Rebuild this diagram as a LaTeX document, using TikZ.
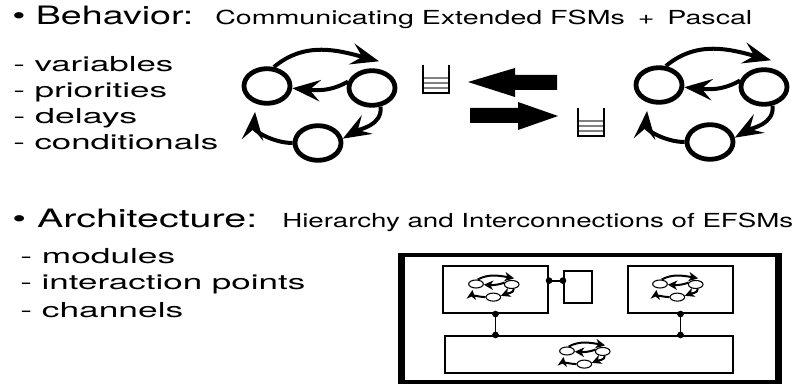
\documentclass[tikz,border=0pt]{standalone}
\usepackage{fontspec}
\setmainfont{TeX Gyre Heros}
\usepackage{graphicx}
\usetikzlibrary{arrows.meta, positioning, calc, shapes.geometric}

\newlength\px
\setlength\px{0.75pt}
\newcommand\stretchto[2]{\resizebox{#1\px}{\height}{#2}}

\tikzset{
  head/.style={font=\fontsize{19}{22}\selectfont, anchor=base west, inner sep=0pt},
  sub/.style={font=\fontsize{14.5}{17}\selectfont, anchor=base west, inner sep=0pt},
  item/.style={font=\fontsize{15.5}{18}\selectfont, anchor=base west, inner sep=0pt},
  state/.style={draw, ellipse, inner sep=0pt, line width=3.6pt, minimum width=34.5pt, minimum height=26pt},
  trans/.style={line width=3pt, -{Stealth[length=21pt, width=16pt, inset=8pt]}},
  mini/.style={xscale=0.34, yscale=0.23,
    state/.style={draw, ellipse, inner sep=0pt, line width=0.8pt, minimum width=11pt, minimum height=6pt},
    trans/.style={line width=1.5pt, -{Stealth[length=7pt, width=7pt, inset=2pt]}}},
  module/.style={draw, rectangle, line width=1.6pt, inner sep=0pt},
  ip/.style={circle, fill, inner sep=0pt, minimum size=5pt},
  pics/fsm/.style={code={
    \node[state] (-l) at (0,0) {};
    \node[state] (-r) at (105,-2) {};
    \node[state] (-b) at (51,-57) {};
    \coordinate (-tr) at ([shift={(7,7)}]-r.north);
    \coordinate (-tl) at ([shift={(6,-12)}]-l.south west);
    \draw[trans] (-l.70) to[out=40, in=165] (-tr);
    \draw[trans] (-r.165) to[out=210, in=-5] (-l.-5);
    \draw[trans] (-r.-65) to[out=-85, in=30] (-b.10);
    \draw[trans] (-b.180) to[out=180, in=-95] (-tl);
  }},
  pics/queue/.style={code={
    \foreach \yy in {-13,-18,-23}
      \draw[gray, line width=0.8pt] (0,\yy) -- (26,\yy);
    \draw[line width=0.9pt] (0,0) -- (0,-28) -- (26,-28) -- (26,0);
  }}
}

\begin{document}
\begin{tikzpicture}[x=0.75pt, y=0.75pt]
\useasboundingbox (0,0) rectangle (801,-385);

% behaviour part
\node[head] (beh) at (12,-25) {\stretchto{181}{• Behavior:}};
\node[sub] (behsub) at (215,-25) {\stretchto{537}{Communicating Extended FSMs\hspace{0.45em}+\hspace{0.45em}Pascal}};
\node[item] (v1) at (13,-72) {\stretchto{160}{- variables}};
\node[item] (v2) at (13,-98) {\stretchto{154}{- priorities}};
\node[item] (v3) at (13,-123) {\stretchto{124}{- delays}};
\node[item] (v4) at (13,-149) {\stretchto{205}{- conditionals}};

\pic (fsmL) at (267,-86) {fsm};
\pic (fsmR) at (659,-85) {fsm};
\pic (qL) at (423,-65) {queue};
\pic (qR) at (578,-108) {queue};

\fill (468,-82) -- (515,-68) -- (515,-75) -- (557,-75) -- (557,-90) -- (515,-90) -- (515,-97) -- cycle;
\fill (558,-116) -- (518,-102) -- (518,-108) -- (470,-108) -- (470,-123) -- (518,-123) -- (518,-130) -- cycle;

% architecture part
\node[head] (arch) at (12,-228) {\stretchto{245}{• Architecture:}};
\node[sub] (archsub) at (282,-228) {\stretchto{511}{Hierarchy and Interconnections of EFSMs}};
\node[item] (m1) at (20,-263) {\stretchto{155}{- modules}};
\node[item] (m2) at (20,-290) {\stretchto{285}{- interaction points}};
\node[item] (m3) at (20,-317) {\stretchto{163}{- channels}};

\node[draw, line width=3pt, inner sep=0pt, minimum width=280.5pt, minimum height=95.25pt] (sys) at (590,-318.5) {};
\draw[line width=4.5pt] (sys.north west) -- (sys.south west);
\draw[line width=4.5pt] (sys.north east) -- (sys.south east);
\node[module, minimum width=78.75pt, minimum height=35.25pt] (modA) at (495.5,-289.5) {};
\node[module, minimum width=78.75pt, minimum height=35.25pt] (modB) at (680.5,-289.5) {};
\node[module, minimum width=216pt, minimum height=27.75pt] (modC) at (589,-354.5) {};
\node[module, minimum width=21pt, minimum height=24pt] (buf) at (578,-287) {};

\pic[mini] (fsmA) at (476,-284) {fsm};
\pic[mini] (fsmB) at (660,-284) {fsm};
\pic[mini] (fsmC) at (567,-351) {fsm};

\draw[line width=1.6pt] (buf.157 -| modA.east) -- (buf.157);
\draw[line width=1pt] (modA.south) -- (modA.south |- modC.north);
\draw[line width=1pt] (modB.south) -- (modB.south |- modC.north);
\node[ip] (ipA) at (buf.157 -| modA.east) {};
\node[ip] (ipBuf) at (buf.157) {};
\node[ip] (ipA2) at (modA.south) {};
\node[ip] (ipC1) at (modA.south |- modC.north) {};
\node[ip] (ipB2) at (modB.south) {};
\node[ip] (ipC2) at (modB.south |- modC.north) {};
\end{tikzpicture}
\end{document}
